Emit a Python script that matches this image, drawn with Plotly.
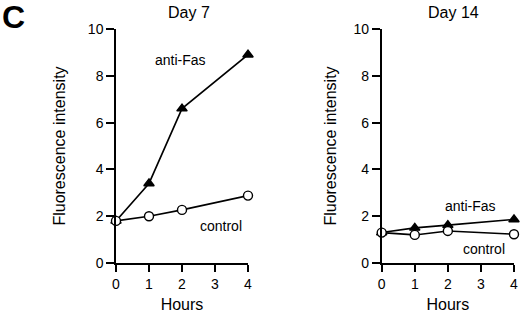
import plotly.graph_objects as go

hours = [0, 1, 2, 4]
day7_antifas = [1.8, 3.4, 6.6, 8.9]
day7_control = [1.8, 2.0, 2.27, 2.88]
day14_antifas = [1.3, 1.5, 1.62, 1.86]
day14_control = [1.3, 1.2, 1.37, 1.23]
panel_titles = ["Day 7", "Day 14"]
xticks = [0, 1, 2, 3, 4]
yticks = [0, 2, 4, 6, 8, 10]

FONT = "Liberation Sans, Arial, Helvetica, sans-serif"
W, H = 520, 313
fig = go.Figure()

def add_series(x, y, xa, ya, sym, fill):
    fig.add_trace(go.Scatter(
        x=x, y=y, xaxis=xa, yaxis=ya, mode="lines+markers",
        line=dict(color="black", width=1.6),
        marker=dict(symbol=sym, size=9, color=fill, line=dict(color="black", width=1.4)),
        cliponaxis=False, showlegend=False, hoverinfo="skip"))

add_series(hours, day7_antifas, "x", "y", "triangle-up", "black")
add_series(hours, day7_control, "x", "y", "circle", "white")
add_series(hours, day14_antifas, "x2", "y2", "triangle-up", "black")
add_series(hours, day14_control, "x2", "y2", "circle", "white")

ydom = [1 - 263 / H, 1 - 29 / H]
common = dict(showgrid=False, zeroline=False, showline=True, linecolor="black",
              linewidth=1.5, ticks="outside", tickwidth=1.5, automargin=False,
              tickcolor="black", tickfont=dict(family=FONT, size=14, color="black"))
tfont = dict(family=FONT, size=16, color="black")

fig.update_layout(
    width=W, height=H, margin=dict(l=0, r=0, t=0, b=0),
    paper_bgcolor="white", plot_bgcolor="white",
    xaxis=dict(domain=[116 / W, 248 / W], range=[0, 4], tickvals=xticks, ticklen=7,
               anchor="y", title=dict(text="Hours", font=tfont, standoff=22), **common),
    yaxis=dict(domain=ydom, range=[0, 10], tickvals=yticks, anchor="x", ticklen=8,
               title=dict(text="Fluorescence intensity", font=tfont, standoff=18), **common),
    xaxis2=dict(domain=[381.7 / W, 514 / W], range=[0, 4], tickvals=xticks, ticklen=7,
                anchor="y2", title=dict(text="Hours", font=tfont, standoff=22), **common),
    yaxis2=dict(domain=ydom, range=[0, 10], tickvals=yticks, anchor="x2", ticklen=8,
                title=dict(text="Fluorescence intensity", font=tfont, standoff=13), **common),
)

ann_font = dict(family=FONT, size=14, color="black")
fig.add_annotation(x=1.95, y=8.68, xref="x", yref="y", text="anti-Fas", showarrow=False, font=ann_font)
fig.add_annotation(x=3.18, y=1.58, xref="x", yref="y", text="control", showarrow=False, font=ann_font)
fig.add_annotation(x=2.68, y=2.44, xref="x2", yref="y2", text="anti-Fas", showarrow=False, font=ann_font)
fig.add_annotation(x=3.1, y=0.6, xref="x2", yref="y2", text="control", showarrow=False, font=ann_font)

fig.add_annotation(x=2.2, y=1 - 2 / H, xref="x", yref="paper", text=panel_titles[0], yanchor="top",
                   showarrow=False, font=tfont)
fig.add_annotation(x=2.16, y=1 - 2 / H, xref="x2", yref="paper", text=panel_titles[1], yanchor="top",
                   showarrow=False, font=tfont)
fig.add_annotation(x=0, y=1 + 3 / H, xref="paper", yref="paper", text="<b>C</b>",
                   xanchor="left", yanchor="top", showarrow=False,
                   font=dict(family=FONT, size=32, color="black"))

fig.write_html("out.html", config={"displayModeBar": False},
               post_script="document.body.style.margin='0';"
                           "document.documentElement.style.overflow='hidden';")
